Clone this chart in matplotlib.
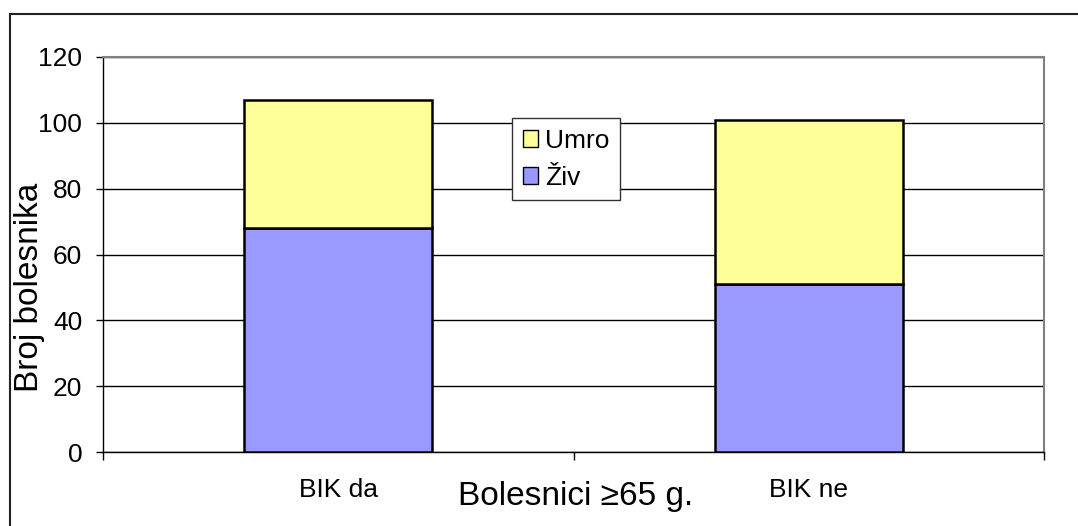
import numpy as np
import matplotlib
matplotlib.use('Agg')
import matplotlib.pyplot as plt
from matplotlib.patches import Rectangle

plt.rcParams['font.family'] = ['Liberation Sans', 'DejaVu Sans']

categories = ['BIK da', 'BIK ne']
ziv = [68, 51]
umro = [39, 50]
series_names = ['Živ', 'Umro']
yticks = [0, 20, 40, 60, 80, 100, 120]

fig = plt.figure(figsize=(10.78, 5.26), dpi=100)
W, H = 1078.0, 526.0
ax = fig.add_axes([103/W, 1-452/H, 941/W, 395/H])

# okvir oko cijele slike
fig.patches.append(Rectangle((10/W, -0.5), 2.0, 1.5 - 14/H, transform=fig.transFigure,
                             fill=False, edgecolor='#222222', lw=1.5, clip_on=False))

x = np.arange(len(categories))
ax.bar(x, ziv, width=0.4, color='#9999FF', edgecolor='black', lw=1.8, label=series_names[0], zorder=3)
ax.bar(x, umro, width=0.4, bottom=ziv, color='#FFFF99', edgecolor='black', lw=1.8, label=series_names[1], zorder=3)

ax.set_xlim(-0.5, 1.5)
ax.set_ylim(0, 120)
ax.set_yticks(yticks)
ax.yaxis.grid(True, color='black', lw=1)
ax.set_axisbelow(True)
ax.tick_params(axis='y', labelsize=19, length=5, width=1, direction='out', pad=10)

ax.set_xticks(x)
ax.set_xticklabels(categories)
ax.tick_params(axis='x', which='major', length=0, labelsize=19, pad=19)
ax.set_xticks([-0.5, 0.5, 1.5], minor=True)
ax.tick_params(axis='x', which='minor', length=6, width=1, direction='out')

for s in ['top', 'right']:
    ax.spines[s].set_color('#808080')
    ax.spines[s].set_linewidth(1.5)
for s in ['left', 'bottom']:
    ax.spines[s].set_color('black')
    ax.spines[s].set_linewidth(1)

ax.set_xlabel('Bolesnici ≥65 g.', fontsize=24)
ax.xaxis.set_label_coords((576-103)/941.0, (452-496)/395.0)
ax.xaxis.label.set_va('center')
ax.set_ylabel('Broj bolesnika', fontsize=24)
ax.yaxis.set_label_coords((30-103)/941.0, (452-287)/395.0)
ax.yaxis.label.set_va('center')

h, l = ax.get_legend_handles_labels()
leg = ax.legend(h[::-1], l[::-1], loc='upper left', bbox_to_anchor=((512-103)/941.0, (452-118)/395.0),
                fontsize=19, frameon=True, fancybox=False, handlelength=0.6, handleheight=0.6,
                handletextpad=0.25, borderpad=0.4, labelspacing=0.5, borderaxespad=0)
leg.get_frame().set_edgecolor('#333333')
leg.get_frame().set_linewidth(1)
leg.get_frame().set_alpha(1)
for p in leg.get_patches():
    p.set_linewidth(1)

fig.savefig('out.png', dpi=100)
